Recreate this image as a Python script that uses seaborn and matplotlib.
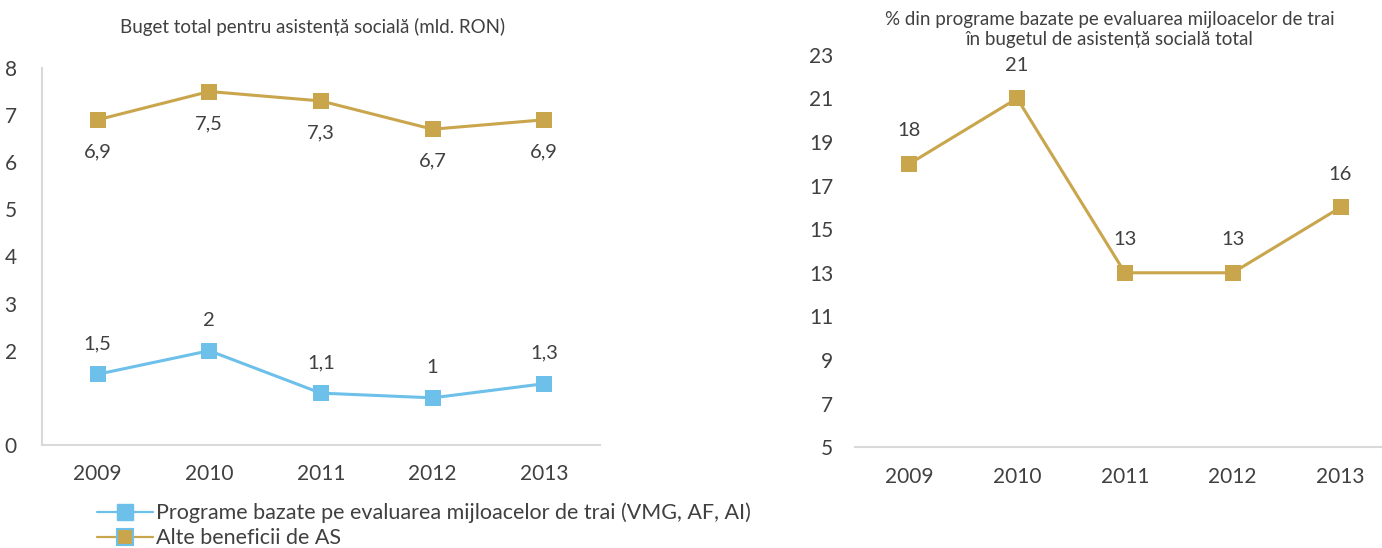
import numpy as np
import pandas as pd
import matplotlib
matplotlib.use("Agg")
import matplotlib.pyplot as plt
from matplotlib.lines import Line2D
import seaborn as sns

years = ["2009", "2010", "2011", "2012", "2013"]
means_tested = [1.5, 2.0, 1.1, 1.0, 1.3]
other_benefits = [6.9, 7.5, 7.3, 6.7, 6.9]
share_pct = [18, 21, 13, 13, 16]
left_yticks = [0, 2, 3, 4, 5, 6, 7, 8]
right_yticks = [5, 7, 9, 11, 13, 15, 17, 19, 21, 23]

series_names = ["Programe bazate pe evaluarea mijloacelor de trai (VMG, AF, AI)",
                "Alte beneficii de AS"]
title_left = "Buget total pentru asistență socială (mld. RON)"
title_right = "% din programe bazate pe evaluarea mijloacelor de trai\nîn bugetul de asistență socială total"

BLUE = "#6CC0EA"
GOLD = "#C9A54C"
TXT = "#404040"
SPINE = "#D9D9D9"

sns.set_theme(style="white")
plt.rcParams["font.family"] = ["Lato", "DejaVu Sans"]

fig = plt.figure(figsize=(13.82, 5.48), dpi=100)
axL = fig.add_axes([0.0302, 0.188, 0.404, 0.688])
axR = fig.add_axes([0.619, 0.184, 0.390, 0.716])

idx = np.arange(len(years))
df = pd.DataFrame({"x": np.concatenate([idx, idx]),
                   "y": means_tested + other_benefits,
                   "s": [series_names[0]] * 5 + [series_names[1]] * 5})

sns.lineplot(data=df, x="x", y="y", hue="s", palette=[BLUE, GOLD], marker="s",
             markersize=11, markeredgewidth=0, linewidth=2.2, ax=axL, legend=False)

LBL = 14.5
for i, v in enumerate(means_tested):
    axL.annotate(f"{v:g}".replace(".", ","), (i, v), xytext=(0, 22), textcoords="offset points",
                 ha="center", va="center", fontsize=LBL, color=TXT)
for i, v in enumerate(other_benefits):
    axL.annotate(f"{v:g}".replace(".", ","), (i, v), xytext=(0, -23), textcoords="offset points",
                 ha="center", va="center", fontsize=LBL, color=TXT)

axL.set_xlim(-0.5, 4.5)
axL.set_ylim(0, 8)
axL.set_yticks(left_yticks)
axL.set_xticks(idx)
axL.set_xticklabels(years)
axL.set_xlabel("")
axL.set_ylabel("")
for sp in ["top", "right"]:
    axL.spines[sp].set_visible(False)
for sp in ["left", "bottom"]:
    axL.spines[sp].set_color(SPINE)
    axL.spines[sp].set_linewidth(1.5)
TK = 15
axL.tick_params(axis="y", length=0, pad=18, labelsize=TK, labelcolor=TXT)
axL.tick_params(axis="x", length=0, pad=14, labelsize=TK, labelcolor=TXT)
fig.text(0.226, 0.950, title_left, ha="center", va="center", fontsize=13.5, color=TXT)

dfr = pd.DataFrame({"x": idx, "y": share_pct})
sns.lineplot(data=dfr, x="x", y="y", color=GOLD, marker="s", markersize=11,
             markeredgewidth=0, linewidth=2.2, ax=axR)
for i, v in enumerate(share_pct):
    axR.annotate(f"{v:g}", (i, v), xytext=(0, 24), textcoords="offset points",
                 ha="center", va="center", fontsize=LBL, color=TXT)
axR.set_xlim(-0.5, 4.5)
axR.set_ylim(5, 23)
axR.set_yticks(right_yticks)
axR.set_xticks(idx)
axR.set_xticklabels(years)
axR.set_xlabel("")
axR.set_ylabel("")
for sp in ["top", "right", "left"]:
    axR.spines[sp].set_visible(False)
axR.spines["bottom"].set_color(SPINE)
axR.spines["bottom"].set_linewidth(1.5)
axR.tick_params(axis="y", length=0, pad=16, labelsize=TK, labelcolor=TXT)
axR.tick_params(axis="x", length=0, pad=14, labelsize=TK, labelcolor=TXT)
fig.text(0.803, 0.946, title_right, ha="center", va="center", fontsize=13.5, color=TXT,
         linespacing=1.2)

handles = [Line2D([], [], color=BLUE, lw=1.6, marker="s", markersize=11,
                  markerfacecolor=BLUE, markeredgecolor=BLUE),
           Line2D([], [], color=GOLD, lw=1.6, marker="s", markersize=11,
                  markerfacecolor=GOLD, markeredgecolor=BLUE, markeredgewidth=1.5)]
fig.legend(handles, series_names, loc="upper left", bbox_to_anchor=(0.070, 0.083),
           frameon=False, fontsize=15.5, labelcolor=TXT, handlelength=2.6,
           handletextpad=0.15, labelspacing=0.25, borderaxespad=0, borderpad=0)

fig.savefig("out.png", dpi=100)
